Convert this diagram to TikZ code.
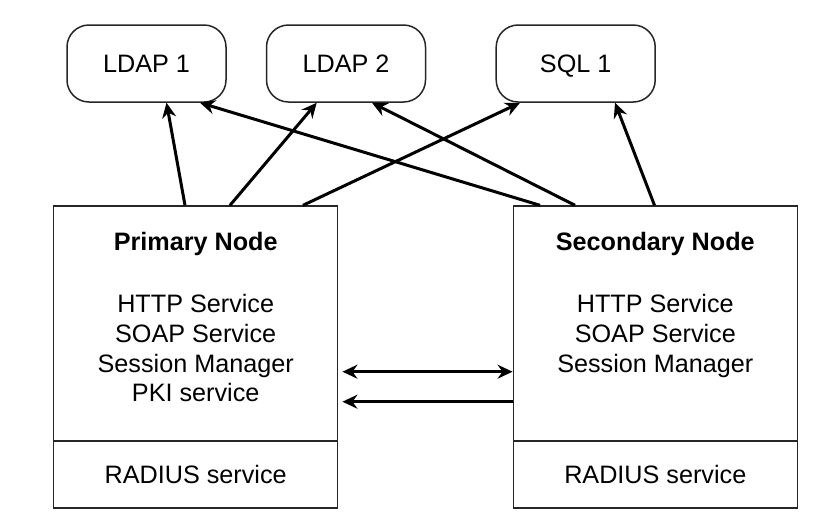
\documentclass[tikz,border=0pt]{standalone}
\usepackage{fontspec}
\setmainfont{Liberation Sans}
\usetikzlibrary{arrows.meta}
\begin{document}
\begin{tikzpicture}[x=1pt,y=-1pt,
  txtfont/.style={font=\fontsize{25.2}{29.7}\selectfont},
  box/.style={draw=black!85, line width=1.5pt, minimum width=284pt, inner sep=0pt, txtfont},
  db/.style={draw=black!85, line width=1.5pt, rounded corners=22pt, minimum width=159pt, minimum height=77pt, inner sep=0pt, text height=18pt, text depth=0pt, txtfont},
  txt/.style={inner sep=0pt, align=center, txtfont},
  tip/.tip={Stealth[length=15pt,width=14pt,inset=5pt]},
  arr/.style={line width=3pt, -tip},
  dbl/.style={line width=3pt, tip-tip}
]
\path[fill=white, use as bounding box] (0,0) rectangle (816,528);

\node[db] (l1) at (146.5,63.5) {LDAP 1};
\node[db] (l2) at (346,63.5) {LDAP 2};
\node[db] (q1) at (575.7,63.5) {SQL 1};

\node[box, minimum height=234.7pt] (p) at (195.7,323.4) {};
\node[box, minimum height=67.3pt] (pr) at (195.7,474.35) {RADIUS service};
\node[box, minimum height=234.7pt] (s) at (655.3,323.4) {};
\node[box, minimum height=67.3pt] (sr) at (655.3,474.35) {RADIUS service};

\node[txt, anchor=north] (pt) at ([yshift=-26.6pt]p.north) {\textbf{Primary Node}\\[32.6pt]HTTP Service\\SOAP Service\\Session Manager\\PKI service};
\node[txt, anchor=north] (st) at ([yshift=-26.6pt]s.north) {\textbf{Secondary Node}\\[32.6pt]HTTP Service\\SOAP Service\\Session Manager};

\draw[arr] ([xshift=-10.7pt]p.north) -- ([xshift=20pt]l1.south);
\draw[arr] ([xshift=34.3pt]p.north) -- ([xshift=-29.3pt]l2.south);
\draw[arr] ([xshift=107.3pt]p.north) -- ([xshift=-55.7pt]q1.south);
\draw[arr] ([xshift=-115.3pt]s.north) -- ([xshift=53.5pt]l1.south);
\draw[arr] ([xshift=-80.3pt]s.north) -- ([xshift=26pt]l2.south);
\draw[arr] ([xshift=-0.8pt]s.north) -- ([xshift=39.3pt]q1.south);

\draw[dbl] ([shift={(4pt,-48.3pt)}]p.east) -- ([yshift=-48.3pt]s.west);
\draw[arr] ([yshift=-78.3pt]s.west) -- ([shift={(4pt,-78.3pt)}]p.east);
\end{tikzpicture}
\end{document}
